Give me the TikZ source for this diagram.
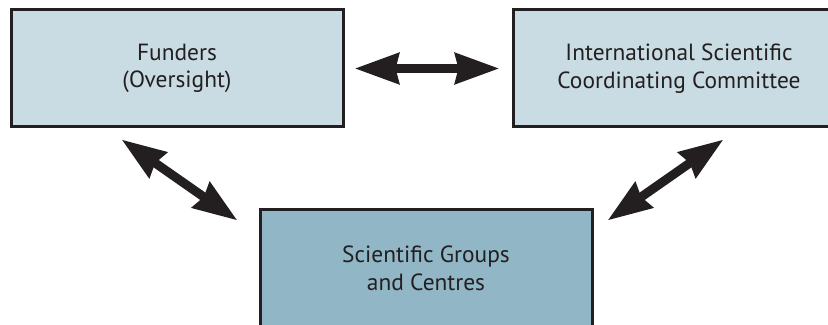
\documentclass[tikz,border=0pt]{standalone}
\usepackage{fontspec}
\setmainfont{PT Sans}
\usepackage{xcolor}
\usepackage{tikz}
\usetikzlibrary{positioning,arrows.meta}

\definecolor{paleblue}{HTML}{C9DCE3}
\definecolor{midblue}{HTML}{91B6C6}
\definecolor{inkdark}{HTML}{231F20}

\begin{document}
\begin{tikzpicture}[
    x=0.5pt, y=0.5pt,
    box/.style={rectangle, draw=inkdark, fill=paleblue, line width=1.5pt, minimum width=166pt, minimum height=58.5pt, align=center, font=\fontsize{11.7}{13.8}\selectfont, text=inkdark},
    groupbox/.style={box, fill=midblue},
    dblarrow/.style={{Stealth[length=22pt, width=15pt, inset=1.5pt]}-{Stealth[length=22pt, width=15pt, inset=1.5pt]}, line width=4.5pt, draw=inkdark}
]
\useasboundingbox (0,0) rectangle (828,-325);

% Nodes
\node[box] (funders) at (177,-68.5) {Funders\\(Oversight)};

\node[box, right=83.5pt of funders] (iscc) {International Scientific\\Coordinating Committee};

\node[groupbox] (groups) at (426,-268.5) {Scientific Groups\\and Centres};

% Arrows
\draw[dblarrow, shorten <=5pt, shorten >=6pt] (funders) -- (iscc);
\draw[dblarrow] ([shift={(112,-11)}]funders.south west) -- ([shift={(-21,-12)}]groups.north west);
\draw[dblarrow] ([shift={(212,-11)}]iscc.south west) -- ([shift={(14,-12)}]groups.north east);

\end{tikzpicture}
\end{document}
